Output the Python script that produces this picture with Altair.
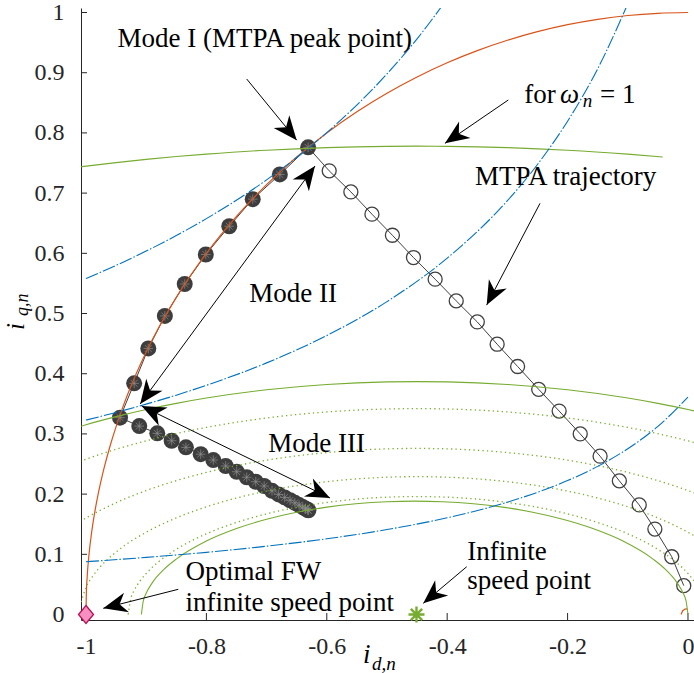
import math
import altair as alt
import pandas as pd

# ---------------- axes ----------------
X_DOMAIN = [-1.0083, 0.01]
Y_DOMAIN = [-0.0091, 1.0075]
PLOT_W, PLOT_H = 613, 612
X_TICKS = [-1.0, -0.8, -0.6, -0.4, -0.2, 0.0]
Y_TICKS = [0.0, 0.1, 0.2, 0.3, 0.4, 0.5, 0.6, 0.7, 0.8, 0.9, 1.0]

ORANGE = "#D95319"
BLUE = "#0072BD"
GREEN = "#77AC30"
DARK = "#404040"
AXC = "#262626"
SERIF = "Liberation Serif"

# ---------------- current limit circle ----------------
CIRCLE_ID = [-1.0, -0.9995, -0.998, -0.995, -0.99, -0.985, -0.98, -0.97, -0.96, -0.95, -0.94,
             -0.92, -0.9, -0.85, -0.8, -0.75, -0.7, -0.65, -0.6, -0.55, -0.5, -0.45, -0.4,
             -0.35, -0.3, -0.25, -0.2, -0.15, -0.1, -0.05, 0.0]
CIRCLE_IQ = [0.0, 0.0316, 0.0632, 0.0999, 0.1411, 0.1726, 0.1990, 0.2431, 0.2800, 0.3122, 0.3412,
             0.3919, 0.4359, 0.5268, 0.6000, 0.6614, 0.7141, 0.7599, 0.8000, 0.8352, 0.8660, 0.8930,
             0.9165, 0.9367, 0.9539, 0.9682, 0.9798, 0.9887, 0.9950, 0.9987, 1.0]
SMALL_ARC_ID = [-0.0115, -0.009, -0.005, -0.001]
SMALL_ARC_IQ = [0.0, 0.006, 0.009, 0.0095]

# ---------------- voltage limit ellipses ----------------
S1_ID = [-1.01, -0.95, -0.9, -0.85, -0.8, -0.7, -0.6, -0.5, -0.45, -0.4, -0.3, -0.2, -0.1, -0.042]
S1_IQ = [0.7436, 0.7507, 0.7560, 0.7607, 0.7647, 0.7713, 0.7756, 0.7777, 0.7780, 0.7777, 0.7756,
         0.7713, 0.7647, 0.7600]

FULL_ID = [-1.01, -1.0, -0.95, -0.9, -0.85, -0.8, -0.7, -0.6, -0.5, -0.45, -0.4, -0.3, -0.2, -0.1,
           -0.05, 0.0, 0.01]
S2_IQ = [0.3122, 0.3152, 0.3287, 0.3406, 0.3508, 0.3596, 0.3733, 0.3821, 0.3864, 0.3869, 0.3864,
         0.3821, 0.3733, 0.3596, 0.3508, 0.3406, 0.3383]
D1_IQ = [0.2544, 0.2580, 0.2745, 0.2885, 0.3005, 0.3108, 0.3265, 0.3365, 0.3414, 0.3420, 0.3414,
         0.3365, 0.3265, 0.3108, 0.3005, 0.2885, 0.2859]
D2_IQ = [0.1546, 0.1604, 0.1857, 0.2059, 0.2224, 0.2361, 0.2564, 0.2690, 0.2752, 0.2759, 0.2752,
         0.2690, 0.2564, 0.2361, 0.2224, 0.2059, 0.2022]

D3_ID = [-1.01, -1.0, -0.99, -0.98, -0.95, -0.9, -0.85, -0.8, -0.7, -0.6, -0.5, -0.45, -0.4, -0.3,
         -0.2, -0.1, -0.05, 0.0, 0.01]
D3_IQ = [0.0135, 0.0451, 0.0620, 0.0750, 0.1038, 0.1367, 0.1605, 0.1789, 0.2050, 0.2206, 0.2281,
         0.2290, 0.2281, 0.2206, 0.2050, 0.1789, 0.1605, 0.1367, 0.1311]

D4_ID = [-0.93, -0.925, -0.92, -0.91, -0.9, -0.88, -0.85, -0.8, -0.75, -0.7, -0.6, -0.5, -0.45,
         -0.4, -0.3, -0.2, -0.15, -0.1, -0.05, -0.02, 0.0, 0.01]
D4_IQ = [0.0, 0.0283, 0.0398, 0.0560, 0.0682, 0.0871, 0.1083, 0.1341, 0.1529, 0.1672, 0.1861,
         0.1949, 0.1959, 0.1949, 0.1861, 0.1672, 0.1529, 0.1341, 0.1083, 0.0871, 0.0682, 0.0560]

S3_ID = [-0.908, -0.905, -0.9, -0.89, -0.87, -0.85, -0.8, -0.75, -0.7, -0.65, -0.6, -0.5, -0.454,
         -0.408, -0.308, -0.258, -0.208, -0.158, -0.108, -0.058, -0.038, -0.018, -0.008, -0.003, 0.0]
S3_IQ = [0.0, 0.0216, 0.0352, 0.0525, 0.0754, 0.0921, 0.1220, 0.1428, 0.1583, 0.1699, 0.1784,
         0.1874, 0.1884, 0.1874, 0.1784, 0.1699, 0.1583, 0.1428, 0.1220, 0.0921, 0.0754, 0.0525,
         0.0352, 0.0216, 0.0]

# ---------------- constant torque curves ----------------
B1_ID = [-1.0, -0.95, -0.9, -0.85, -0.8, -0.7, -0.6, -0.5, -0.45, -0.4]
B1_IQ = [0.5580, 0.5800, 0.6037, 0.6295, 0.6576, 0.7220, 0.8005, 0.8980, 0.9563, 1.0227]
B2_ID = [-1.0, -0.95, -0.9, -0.85, -0.8, -0.7, -0.6, -0.5, -0.4, -0.3, -0.25, -0.2, -0.15, -0.1]
B2_IQ = [0.3230, 0.3357, 0.3495, 0.3644, 0.3807, 0.4180, 0.4634, 0.5198, 0.5920, 0.6874, 0.7476,
         0.8195, 0.9065, 1.0143]
B3_ID = [-1.0, -0.9, -0.8, -0.7, -0.6, -0.5, -0.4, -0.3, -0.2, -0.15, -0.1, -0.05, 0.0]
B3_IQ = [0.0877, 0.0949, 0.1033, 0.1135, 0.1258, 0.1411, 0.1607, 0.1866, 0.2225, 0.2461, 0.2754,
         0.3125, 0.3613]

# ---------------- operating trajectories ----------------
MODE_ID = [-0.631, -0.678, -0.723, -0.762, -0.801, -0.836, -0.869, -0.8965, -0.920, -0.9435,
           -0.9115, -0.8816, -0.8577, -0.834, -0.8095, -0.7885, -0.768, -0.7497, -0.733, -0.718,
           -0.704, -0.691, -0.680, -0.670, -0.661, -0.653, -0.646, -0.640, -0.6355, -0.632, -0.6305]
MODE_IQ = [0.776, 0.731, 0.690, 0.645, 0.598, 0.549, 0.496, 0.442, 0.384, 0.327,
           0.313, 0.301, 0.2887, 0.2777, 0.2663, 0.2566, 0.2467, 0.2372, 0.2280, 0.2206,
           0.2135, 0.2055, 0.1995, 0.1945, 0.1898, 0.1855, 0.1818, 0.1785, 0.1760, 0.1740, 0.1730]

MTPA_ID = [-0.631, -0.596, -0.560, -0.525, -0.491, -0.456, -0.420, -0.385, -0.350, -0.317,
           -0.283, -0.248, -0.214, -0.179, -0.146, -0.114, -0.081, -0.055, -0.027, -0.007]
MTPA_IQ = [0.776, 0.737, 0.702, 0.665, 0.630, 0.593, 0.557, 0.521, 0.486, 0.449,
           0.412, 0.374, 0.338, 0.300, 0.263, 0.222, 0.182, 0.142, 0.096, 0.048]

FW_POINT = (-1.0, 0.0)
INF_POINT = (-0.451, 0.0)

# ---------------- annotations (data units) ----------------
ARROW_FROM_ID = [-0.733, -0.910, -0.9075, -0.2985, -0.2458, -0.8467, -0.3676]
ARROW_FROM_IQ = [0.8895, 0.3497, 0.3463, 0.8547, 0.683, 0.0419, 0.0794]
ARROW_TO_ID = [-0.650, -0.6196, -0.5947, -0.4037, -0.3344, -0.9713, -0.4397]
ARROW_TO_IQ = [0.788, 0.745, 0.1935, 0.7827, 0.514, 0.0103, 0.0186]
ARROW_BOTH = [False, True, True, False, False, False, False]

LABELS = ["Mode I (MTPA peak point)", "for", "= 1", "MTPA trajectory", "Mode II", "Mode III",
          "Optimal FW", "infinite speed point", "Infinite", "speed point"]
LABEL_ID = [-0.9477, -0.2719, -0.1462, -0.3538, -0.7287, -0.6972, -0.8347, -0.8347, -0.3666, -0.3666]
LABEL_IQ = [0.9432, 0.8492, 0.8492, 0.7135, 0.5196, 0.2704, 0.0573, 0.0063, 0.0905, 0.0419]

# ---------------- scales / axes ----------------
xs = alt.Scale(domain=X_DOMAIN, nice=False, zero=False)
ys = alt.Scale(domain=Y_DOMAIN, nice=False, zero=False)
LABEL_EXPR = "replace(format(datum.value, '~g'), '\u2212', '-')"
x_axis = alt.Axis(values=X_TICKS, labelExpr=LABEL_EXPR, title=None, ticks=False, grid=False,
                  domainColor=AXC, domainWidth=1, labelFont=SERIF, labelFontSize=24,
                  labelColor=AXC, labelPadding=14, labelFlush=False, labelOverlap=False)
y_axis = alt.Axis(values=Y_TICKS, labelExpr=LABEL_EXPR, title=None, ticks=False, grid=False,
                  domainColor=AXC, domainWidth=1, labelFont=SERIF, labelFontSize=24,
                  labelColor=AXC, labelPadding=17, labelFlush=False, labelOverlap=False)


def frame(ids, iqs, **extra):
    d = {"id": ids, "iq": iqs, "k": list(range(len(ids)))}
    d.update(extra)
    return pd.DataFrame(d)


def base(df):
    return alt.Chart(df).encode(
        x=alt.X("id:Q", scale=xs, axis=x_axis),
        y=alt.Y("iq:Q", scale=ys, axis=y_axis),
    )


def curve(ids, iqs, color, dash=None, width=1.1, interp="monotone"):
    kw = dict(clip=True, color=color, strokeWidth=width, interpolate=interp)
    if dash:
        kw["strokeDash"] = dash
    return base(frame(ids, iqs)).mark_line(**kw).encode(order="k:Q")


DOT = [1.3, 3.2]
DASHDOT = [13, 2, 1.5, 2]

# inward tick marks
xtick = alt.Chart(pd.DataFrame({"id": X_TICKS})).mark_rule(color=AXC, strokeWidth=1).encode(
    x=alt.X("id:Q", scale=xs, axis=x_axis), y=alt.value(PLOT_H), y2=alt.value(PLOT_H - 7))
ytick = alt.Chart(pd.DataFrame({"iq": Y_TICKS})).mark_rule(color=AXC, strokeWidth=1).encode(
    y=alt.Y("iq:Q", scale=ys, axis=y_axis), x=alt.value(0), x2=alt.value(6))

ASTER = "M0,-1L0,1M-1,0L1,0M-0.71,-0.71L0.71,0.71M-0.71,0.71L0.71,-0.71"
HEAD = "M0,0L0.42,1L0,0.7L-0.42,1Z"
DIAMOND = "M0,-1.2L1,0L0,1.2L-1,0Z"

mode_df = frame(MODE_ID, MODE_IQ)
mtpa_df = frame(MTPA_ID, MTPA_IQ)

mode_line = base(mode_df).mark_line(color=DARK, strokeWidth=1).encode(order="k:Q")
mode_pts = base(mode_df).mark_point(shape="circle", size=256, filled=True, color="#3d3d3d",
                                    opacity=1)
mode_stars = base(mode_df).mark_point(shape=ASTER, size=90, filled=False, stroke="#8f8f8f",
                                      strokeWidth=0.7, opacity=1)
mtpa_line = base(mtpa_df).mark_line(color=DARK, strokeWidth=1).encode(order="k:Q")
mtpa_pts = base(mtpa_df[mtpa_df.k > 0]).mark_point(shape="circle", size=196, filled=False,
                                                     stroke=DARK, strokeWidth=1.3, opacity=1)

fw_pt = base(frame([FW_POINT[0]], [FW_POINT[1]])).mark_point(
    shape=DIAMOND, size=225, filled=True, fill="#F78FC3", stroke="#B8124E", strokeWidth=1.3,
    opacity=1, clip=False)
inf_pt = base(frame([INF_POINT[0]], [INF_POINT[1]])).mark_point(
    shape=ASTER, size=256, filled=False, stroke=GREEN, strokeWidth=2.4, opacity=1, clip=False)

# arrows
sx = PLOT_W / (X_DOMAIN[1] - X_DOMAIN[0])
sy = PLOT_H / (Y_DOMAIN[1] - Y_DOMAIN[0])
head_rows = []
for i in range(len(ARROW_FROM_ID)):
    ends = [(ARROW_FROM_ID[i], ARROW_FROM_IQ[i], ARROW_TO_ID[i], ARROW_TO_IQ[i])]
    if ARROW_BOTH[i]:
        ends.append((ARROW_TO_ID[i], ARROW_TO_IQ[i], ARROW_FROM_ID[i], ARROW_FROM_IQ[i]))
    for (x0, y0, x1, y1) in ends:
        ang = math.degrees(math.atan2((x1 - x0) * sx, (y1 - y0) * sy)) % 360
        head_rows.append({"id": x1, "iq": y1, "ang": ang})
arrow_df = pd.DataFrame({"id": ARROW_FROM_ID, "iq": ARROW_FROM_IQ,
                         "id2": ARROW_TO_ID, "iq2": ARROW_TO_IQ})
arrow_lines = base(arrow_df).mark_rule(color="black", strokeWidth=1).encode(
    x2="id2:Q", y2="iq2:Q")
arrow_heads = base(pd.DataFrame(head_rows)).mark_point(
    shape=HEAD, size=2304, filled=True, color="black", opacity=1).encode(
    angle=alt.Angle("ang:Q", scale=None))

# labels
lab_df = pd.DataFrame({"id": LABEL_ID, "iq": LABEL_IQ, "t": LABELS})
labels = base(lab_df).mark_text(align="left", baseline="alphabetic", font=SERIF, fontSize=27,
                                color="black").encode(text="t:N")
omega = base(pd.DataFrame({"id": [-0.2126], "iq": [0.8492], "t": ["ω"]})).mark_text(
    align="left", baseline="alphabetic", font=SERIF, fontSize=27, fontStyle="italic",
    color="black").encode(text="t:N")
omega_sub = base(pd.DataFrame({"id": [-0.1749], "iq": [0.8435], "t": ["n"]})).mark_text(
    align="left", baseline="alphabetic", font=SERIF, fontSize=19, fontStyle="italic",
    color="black").encode(text="t:N")


def title_text(txt, px, py, size, angle=0):
    kw = dict(align="left", baseline="alphabetic", font=SERIF, fontSize=size,
              fontStyle="italic", color="black")
    if angle:
        kw["angle"] = angle
    return alt.Chart(pd.DataFrame({"t": [txt]})).mark_text(**kw).encode(
        x=alt.value(px), y=alt.value(py), text="t:N")


xt_main = title_text("i", 282, 655, 27)
xt_sub = title_text("d,n", 291, 662, 19)
yt_main = title_text("i", -57, 322, 25, 270)
yt_sub = title_text("q,n", -53, 308, 18, 270)

layers = [
    xtick, ytick,
    mode_line, mtpa_line,
    mode_pts, mode_stars, mtpa_pts,
    curve(CIRCLE_ID, CIRCLE_IQ, ORANGE, width=1.2),
    curve(SMALL_ARC_ID, SMALL_ARC_IQ, ORANGE, width=1.2, interp="linear"),
    curve(S1_ID, S1_IQ, GREEN),
    curve(FULL_ID, S2_IQ, GREEN),
    curve(FULL_ID, D1_IQ, GREEN, dash=DOT, width=1.3),
    curve(FULL_ID, D2_IQ, GREEN, dash=DOT, width=1.3),
    curve(D3_ID, D3_IQ, GREEN, dash=DOT, width=1.3),
    curve(D4_ID, D4_IQ, GREEN, dash=DOT, width=1.3),
    curve(S3_ID, S3_IQ, GREEN),
    curve(B1_ID, B1_IQ, BLUE, dash=DASHDOT),
    curve(B2_ID, B2_IQ, BLUE, dash=DASHDOT),
    curve(B3_ID, B3_IQ, BLUE, dash=DASHDOT),
    fw_pt, inf_pt,
    arrow_lines, arrow_heads,
    labels, omega, omega_sub,
    xt_main, xt_sub, yt_main, yt_sub,
]

chart = alt.layer(*layers).properties(
    width=PLOT_W, height=PLOT_H,
    padding={"left": 81, "top": 8, "right": 0, "bottom": 53},
    autosize=alt.AutoSizeParams(type="none"),
).configure_view(stroke=None)

chart.save("out.html", embed_options={"renderer": "svg", "actions": False})
